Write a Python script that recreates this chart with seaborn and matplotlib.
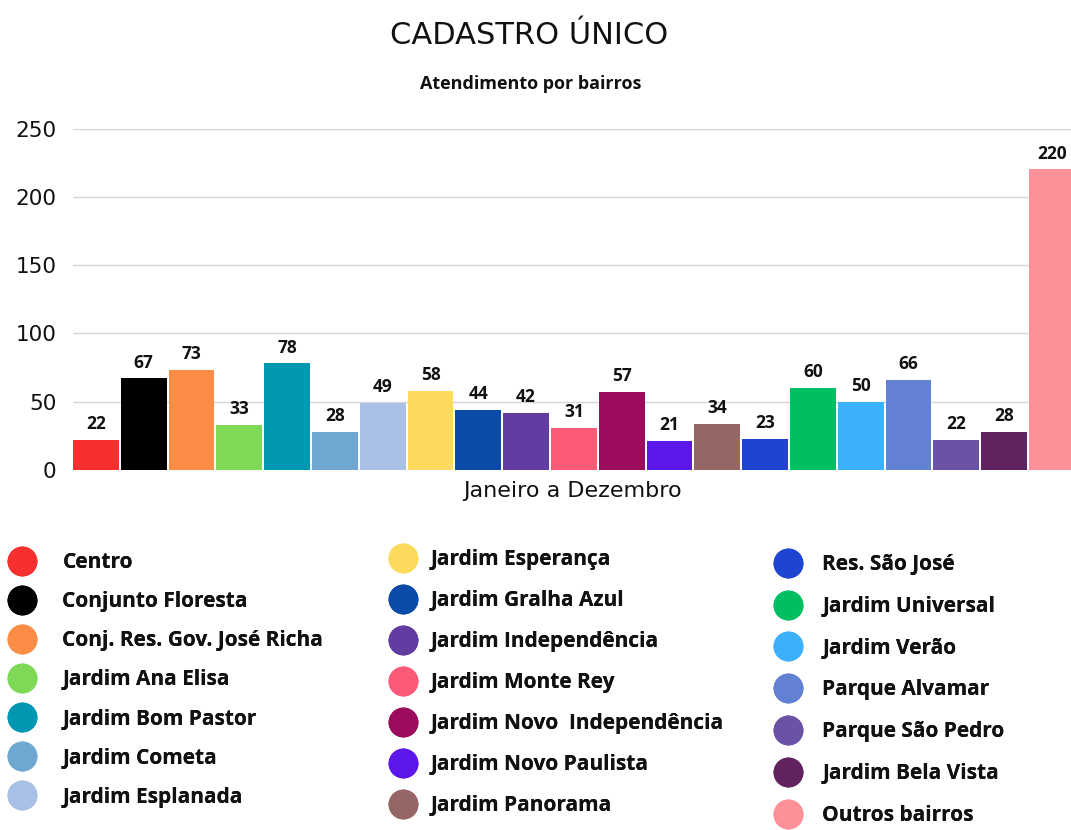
"""
Cadastro Único - atendimento por bairros (janeiro a dezembro)
"""

import matplotlib
matplotlib.use("Agg")

import matplotlib.pyplot as plt
from matplotlib.lines import Line2D
import seaborn as sns
import pandas as pd

# dados
bairros = [
    "Centro", "Conjunto Floresta", "Conj. Res. Gov. José Richa",
    "Jardim Ana Elisa", "Jardim Bom Pastor", "Jardim Cometa",
    "Jardim Esplanada", "Jardim Esperança", "Jardim Gralha Azul",
    "Jardim Independência", "Jardim Monte Rey", "Jardim Novo  Independência",
    "Jardim Novo Paulista", "Jardim Panorama", "Res. São José",
    "Jardim Universal", "Jardim Verão", "Parque Alvamar",
    "Parque São Pedro", "Jardim Bela Vista", "Outros bairros",
]
atendimentos = [22, 67, 73, 33, 78, 28, 49, 58, 44, 42, 31, 57, 21, 34, 23, 60, 50, 66, 22, 28, 220]
cores = [
    "#F5302F", "#000000", "#FB8D47", "#7ED957", "#0097B2", "#6EA8D0",
    "#A9C0E6", "#FBDA5C", "#0A4AA8", "#613CA1", "#FB5A78", "#9B0B5E",
    "#5E17EB", "#966565", "#1F44D2", "#00BF63", "#3DB0FD", "#6281D2",
    "#6B52A6", "#60235F", "#FE9098",
]
yticks = [0, 50, 100, 150, 200, 250]

df = pd.DataFrame({"bairro": bairros, "atendimentos": atendimentos})

sns.set_theme(style="white")
plt.rcParams["font.family"] = ["Open Sans", "DejaVu Sans"]

W, H = 1071, 830
fig = plt.figure(figsize=(W / 100, H / 100), dpi=100)
ax = fig.add_axes([73 / W, 1 - 470 / H, (W - 73) / W, 341.5 / H])

sns.barplot(
    data=df, x="bairro", y="atendimentos", hue="bairro",
    palette=cores, saturation=1, width=0.96, linewidth=0,
    legend=False, ax=ax, zorder=3,
)

for c in ax.containers:
    ax.bar_label(c, fmt="{:.0f}", padding=5, fontsize=12.5,
                 fontweight="bold", color="#111111")

ax.set_xlim(-0.48, 20.40)
ax.set_ylim(0, 250)
ax.set_yticks(yticks)
ax.yaxis.grid(True, color="#d6d6d6", linewidth=1, zorder=0)
ax.xaxis.grid(False)
for s in ax.spines.values():
    s.set_visible(False)
ax.tick_params(axis="x", length=0, labelbottom=False)
ax.tick_params(axis="y", length=0, pad=12, labelsize=15.5, labelcolor="#111111")
for lbl in ax.get_yticklabels():
    lbl.set_fontfamily("DejaVu Sans")
ax.set_ylabel("")
ax.set_xlabel("Janeiro a Dezembro", fontsize=16, family="DejaVu Sans",
              color="#111111", labelpad=8)

fig.text(529 / W, 1 - 36 / H, "CADASTRO ÚNICO", ha="center", va="center",
         fontsize=22, family="DejaVu Sans", color="#111111")
fig.text(531 / W, 1 - 84 / H, "Atendimento por bairros", ha="center", va="center",
         fontsize=13, fontweight="bold", color="#111111")

# legenda em três colunas
handles = [
    Line2D([], [], marker="o", linestyle="", markersize=21.5,
           markerfacecolor=cor, markeredgewidth=0)
    for cor in cores
]
colunas = [
    (slice(0, 7), 5.4, 552, 1.13, 0.87),
    (slice(7, 14), 386.4, 549, 0.51, 0.96),
    (slice(14, 21), 771.4, 554, 0.85, 1.0),
]
for sl, x0, y0, tpad, lspace in colunas:
    leg = fig.legend(
        handles[sl], bairros[sl], loc="upper left",
        bbox_to_anchor=(x0 / W, 1 - y0 / H), frameon=False,
        borderpad=0, borderaxespad=0, handlelength=1.6,
        handletextpad=tpad, labelspacing=lspace,
        prop={"weight": "bold", "size": 15},
    )
    for t in leg.get_texts():
        t.set_color("#111111")
    fig.add_artist(leg)

fig.savefig("out.png", dpi=100)
